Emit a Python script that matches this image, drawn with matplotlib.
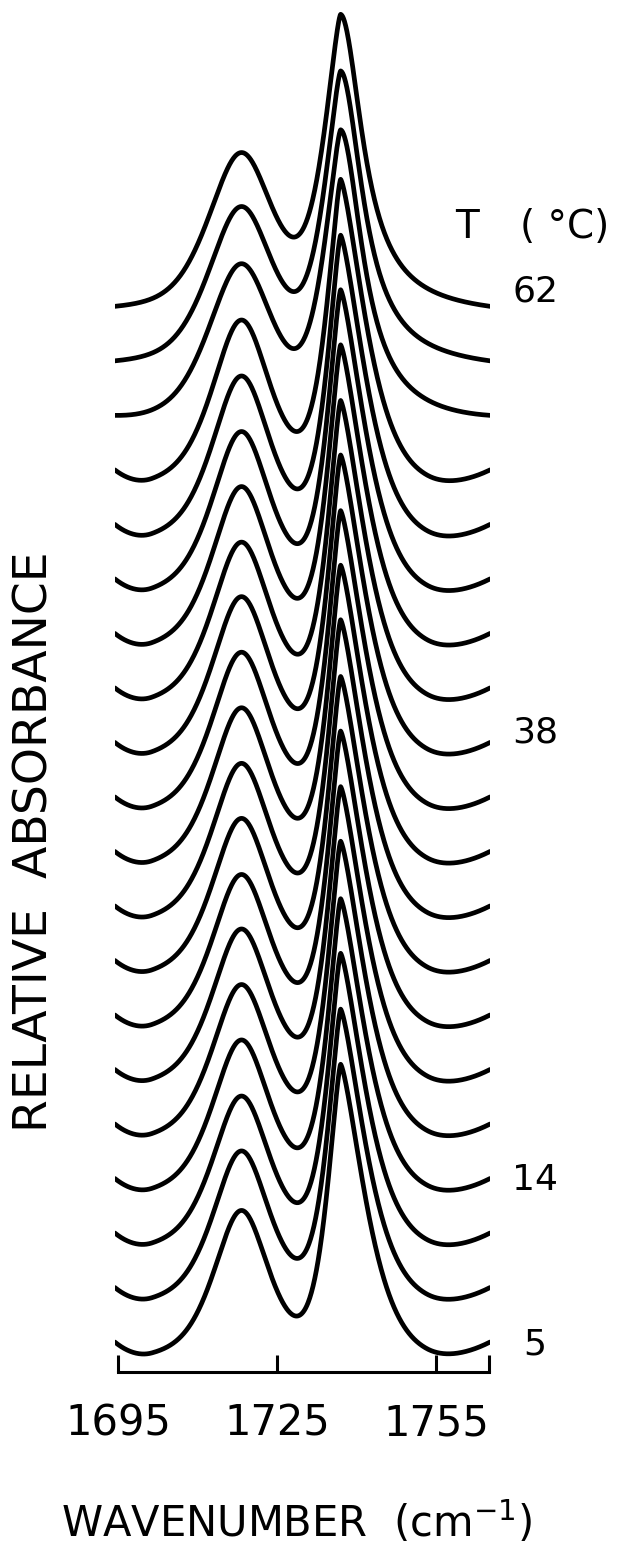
import numpy as np
import matplotlib.pyplot as plt

# sample temperatures, bottom spectrum first (deg C)
temps = [5, 8, 11, 14, 17, 20, 23, 26, 29, 32, 35, 38, 41, 44, 47, 50, 53, 56, 59, 62]

# H-bonded C=O band near 1718 cm-1: height, half width, lorentzian share
hbond_height = [0.281, 0.291, 0.292, 0.295, 0.297, 0.299, 0.299, 0.302, 0.303, 0.305,
                0.307, 0.309, 0.309, 0.311, 0.312, 0.314, 0.316, 0.297, 0.298, 0.297]
hbond_hwhm = [6.3, 6.5, 6.6, 6.6, 6.7, 6.7, 6.7, 6.7, 6.7, 6.7,
              6.7, 6.7, 6.7, 6.7, 6.7, 6.7, 6.7, 7.4, 7.4, 7.4]
hbond_lor = [0.6, 0.6, 0.6, 0.6, 0.6, 0.6, 0.6, 0.6, 0.6, 0.6,
             0.6, 0.6, 0.6, 0.6, 0.6, 0.6, 0.6, 0.5, 0.5, 0.5]

# free C=O band near 1737 cm-1: height and low/high side half widths
free_height = [0.530, 0.530, 0.532, 0.532, 0.537, 0.537, 0.539, 0.539, 0.543, 0.543,
               0.543, 0.545, 0.545, 0.547, 0.548, 0.548, 0.550, 0.523, 0.527, 0.531]
free_hwhm_lo = [2.85, 2.85, 2.85, 2.85, 2.85, 2.85, 2.85, 2.85, 2.85, 2.85,
                2.85, 2.85, 2.85, 2.9, 2.9, 2.9, 3.0, 3.6, 3.6, 3.6]
free_hwhm_hi = [5.2, 5.2, 5.2, 5.2, 5.2, 5.2, 5.2, 5.2, 5.2, 5.2,
                5.2, 5.2, 5.2, 5.2, 5.2, 5.2, 5.2, 5.0, 5.0, 5.0]
# lorentzian share on the high side
free_lor_hi = [0.05, 0.05, 0.05, 0.05, 0.05, 0.05, 0.05, 0.05, 0.05, 0.05,
               0.05, 0.05, 0.05, 0.05, 0.05, 0.05, 0.1, 1.0, 1.0, 1.0]

# how far the baseline sags below the two end points
dip_depth = [0.031, 0.031, 0.031, 0.031, 0.031, 0.031, 0.031, 0.031, 0.031, 0.031,
             0.031, 0.031, 0.031, 0.031, 0.031, 0.031, 0.030, 0.004, 0.0, 0.0]

labelled = [5, 14, 38, 62]
label_nudge = [-0.005, -0.003, 0.019, 0.028]

spacing = 0.1


def pvoigt(x, c, w, eta):
    r2 = ((x - c) / w) ** 2
    return eta / (1 + r2) + (1 - eta) * np.exp(-np.log(2) * r2)


def peaked(x, c, w, p=1.4):
    # pointed band top, exp(-ln2 |r|^p)
    return np.exp(-np.log(2) * np.abs((x - c) / w) ** p)


def edge_ramp(x):
    # 0 at both ends, 1 in between
    tl = np.clip((x - x[0]) / 7.0, 0, 1)
    tr = np.clip((x[-1] - x) / 12.0, 0, 1)
    return (1 - (1 - tl) ** 2) * (1 - (1 - tr) ** 2)


wn = np.linspace(1694.4, 1765.2, 900)

fig = plt.figure(figsize=(6.23, 15.5), dpi=100)
ax = fig.add_axes([114.8 / 623, 178 / 1550, 375.3 / 623, 1372 / 1550])

for i, t in enumerate(temps):
    lo = peaked(wn, 1737.0, free_hwhm_lo[i])
    eta = free_lor_hi[i]
    r2 = ((wn - 1737.0) / free_hwhm_hi[i]) ** 2
    hi = eta / (1 + r2) + (1 - eta) * peaked(wn, 1737.0, free_hwhm_hi[i])
    free = np.where(wn < 1737.0, lo, hi)
    a = (hbond_height[i] * pvoigt(wn, 1718.3, hbond_hwhm[i], hbond_lor[i])
         + free_height[i] * free
         - dip_depth[i] * edge_ramp(wn))
    # straight baseline through the end points
    a = a - np.interp(wn, [wn[0], wn[-1]], [a[0], a[-1]])
    ax.plot(wn, a + spacing * i, color='black', lw=3.4,
            solid_capstyle='round', solid_joinstyle='round')
    if t in labelled:
        k = labelled.index(t)
        ax.text(1773.7, spacing * i + label_nudge[k], str(t), ha='center',
                va='center', fontsize=26, clip_on=False)

ax.set_xlim(1694.4, 1765.2)
ax.set_ylim(-0.055, 2.462)
for side in ['left', 'top', 'right']:
    ax.spines[side].set_visible(False)
ax.spines['bottom'].set_bounds(1695, 1765)
ax.spines['bottom'].set_linewidth(2.2)
ax.set_yticks([])
ax.set_xticks([1695, 1725, 1755, 1765])
ax.set_xticklabels(['1695', '1725', '1755', ''])
ax.tick_params(axis='x', direction='in', length=12, width=2.2, pad=22, labelsize=30)

fig.text(297 / 623, 13 / 1550, 'WAVENUMBER  (cm$^{-1}$)', ha='center',
         va='baseline', fontsize=30)
fig.text(35 / 623, 708 / 1550, 'RELATIVE  ABSORBANCE', rotation=90,
         ha='center', va='center', fontsize=34)
fig.text(455 / 623, 1312 / 1550, 'T', ha='left', va='baseline', fontsize=28)
fig.text(520 / 623, 1312 / 1550, '( °C)', ha='left', va='baseline', fontsize=28)

fig.savefig('out.png', dpi=100, facecolor='white')
